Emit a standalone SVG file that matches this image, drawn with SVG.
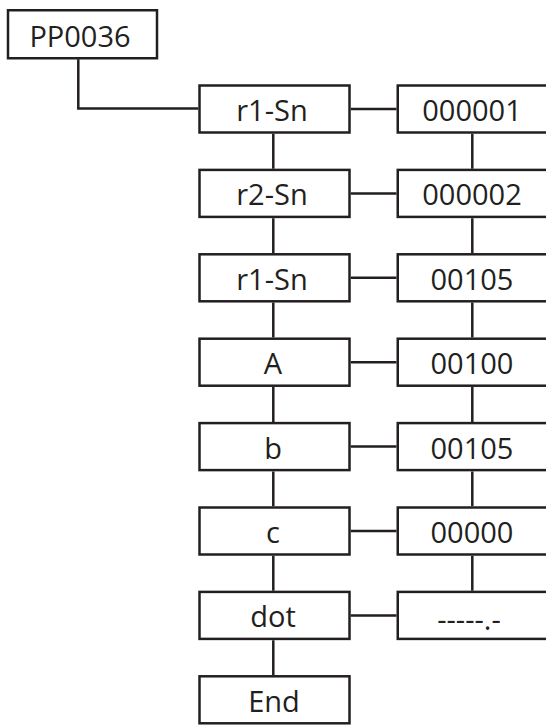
<svg xmlns="http://www.w3.org/2000/svg" width="546" height="725" viewBox="0 0 546 725">
<style>
.box{fill:#fff;stroke:#231f20;stroke-width:2.5}
.ln{fill:none;stroke:#231f20;stroke-width:2.5}
text{font-family:"Open Sans","Noto Sans","Liberation Sans",sans-serif;font-size:29px;fill:#231f20;text-anchor:middle}
</style>
<rect width="546" height="725" fill="#fff"/>
<g id="connectors">
<path class="ln" d="M78.3 59.3V108.5H198.3"/>
<path class="ln" d="M273.3 133.8V168.7M273.3 218.2V253.1M273.3 302.6V337.5M273.3 387V421.9M273.3 471.4V506.3M273.3 555.8V590.7M273.3 640.2V675.1"/>
<path class="ln" d="M472.3 133.8V168.7M472.3 218.2V253.1M472.3 302.6V337.5M472.3 387V421.9M472.3 471.4V506.3M472.3 555.8V590.7"/>
<path class="ln" d="M350.7 109H396.5M350.7 193.4H396.5M350.7 277.8H396.5M350.7 362.2H396.5M350.7 446.6H396.5M350.7 531H396.5M350.7 615.4H396.5"/>
</g>
<g id="pp0036"><rect class="box" x="8" y="10.25" width="149" height="48"/><text x="80" y="46.5">PP0036</text></g>
<g id="l1"><rect class="box" x="199.5" y="85.5" width="150" height="47"/><text x="272" y="121">r1-Sn</text></g>
<g id="l2"><rect class="box" x="199.5" y="169.9" width="150" height="47"/><text x="272" y="205.4">r2-Sn</text></g>
<g id="l3"><rect class="box" x="199.5" y="254.3" width="150" height="47"/><text x="272" y="289.8">r1-Sn</text></g>
<g id="l4"><rect class="box" x="199.5" y="338.7" width="150" height="47"/><text x="273" y="374.2">A</text></g>
<g id="l5"><rect class="box" x="199.5" y="423.1" width="150" height="47"/><text x="273" y="458.6">b</text></g>
<g id="l6"><rect class="box" x="199.5" y="507.5" width="150" height="47"/><text x="273" y="543">c</text></g>
<g id="l7"><rect class="box" x="199.5" y="591.9" width="150" height="47"/><text x="273" y="627.4">dot</text></g>
<g id="l8"><rect class="box" x="199.5" y="676.3" width="150" height="47"/><text x="274" y="712">End</text></g>
<g id="r1"><rect class="box" x="397.75" y="85.5" width="200" height="47"/><text x="472" y="121">000001</text></g>
<g id="r2"><rect class="box" x="397.75" y="169.9" width="200" height="47"/><text x="472" y="205.4">000002</text></g>
<g id="r3"><rect class="box" x="397.75" y="254.3" width="200" height="47"/><text x="472" y="289.8">00105</text></g>
<g id="r4"><rect class="box" x="397.75" y="338.7" width="200" height="47"/><text x="472" y="374.2">00100</text></g>
<g id="r5"><rect class="box" x="397.75" y="423.1" width="200" height="47"/><text x="472" y="458.6">00105</text></g>
<g id="r6"><rect class="box" x="397.75" y="507.5" width="200" height="47"/><text x="472" y="543">00000</text></g>
<g id="r7"><rect class="box" x="397.75" y="591.9" width="200" height="47"/><text x="469" y="629.5">-----.-</text></g>
</svg>
